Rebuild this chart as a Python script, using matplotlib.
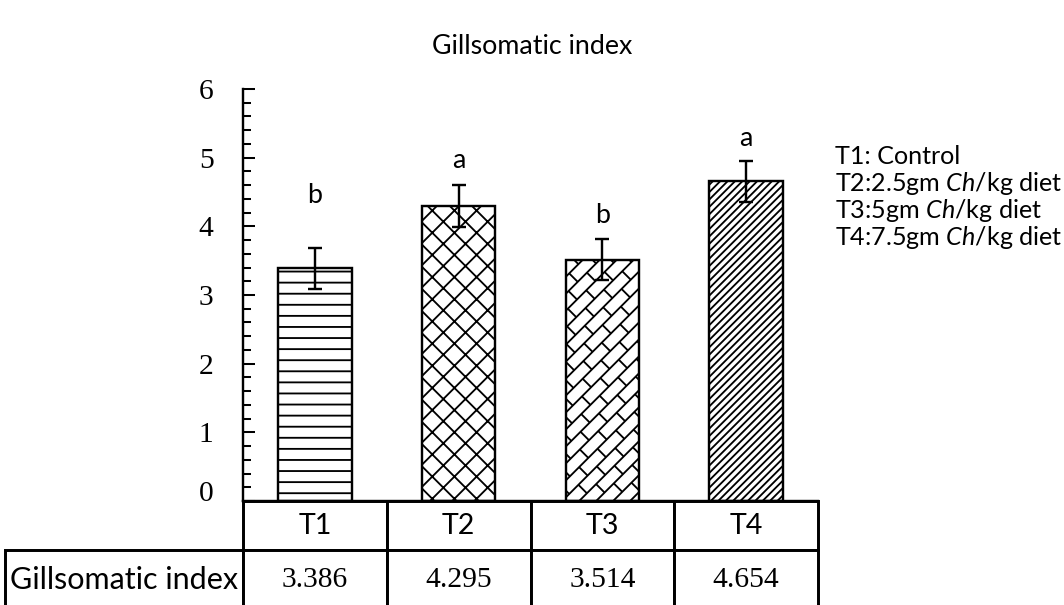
"""Gillsomatic index bar chart with data table underneath."""

import matplotlib
matplotlib.use("Agg")
import matplotlib.pyplot as plt
import numpy as np
from matplotlib.collections import LineCollection
from matplotlib.table import Table
from matplotlib.ticker import MultipleLocator
from matplotlib.transforms import IdentityTransform, ScaledTranslation

categories = ["T1", "T2", "T3", "T4"]
gsi_mean = [3.386, 4.295, 3.514, 4.654]
gsi_err = [0.3, 0.3, 0.3, 0.3]
letters = ["b", "a", "b", "a"]
row_label = "Gillsomatic index"
legend_lines = [
    "T1: Control",
    r"T2:2.5gm $\mathit{Ch}$/kg diet",
    r"T3:5gm $\mathit{Ch}$/kg diet",
    r"T4:7.5gm $\mathit{Ch}$/kg diet",
]

# layout / style
hatches = ["--", "xx", None, "//////"]
letter_gap = [0.77, 0.37, 0.35, 0.33]
DPI = 133
W, H = 1064, 605
AX_L, AX_R, AX_B, AX_T = 243, 818, 501, 89   # pixel box of the plot area
SANS = ["Lato", "DejaVu Sans"]
SERIF = "Liberation Serif"

plt.rcParams["font.family"] = SANS
plt.rcParams["mathtext.fontset"] = "custom"
plt.rcParams["mathtext.rm"] = "Lato"
plt.rcParams["mathtext.it"] = "Lato:italic"
plt.rcParams["hatch.linewidth"] = 1.0
plt.rcParams["hatch.color"] = "black"


def brick_hatch(ax, bar, spacing=12.0, brick=26.0, lw=1.0):
    """Diagonal brick pattern (not available as a built-in hatch), clipped to the bar."""
    bb = bar.get_window_extent()
    s2 = np.sqrt(2)
    cx = np.array([bb.x0, bb.x1, bb.x0, bb.x1])
    cy = np.array([bb.y0, bb.y0, bb.y1, bb.y1])
    u = (cx + cy) / s2
    v = (cy - cx) / s2
    umin, umax = u.min() - brick, u.max() + brick

    def xy(uu, vv):
        return ((uu - vv) / s2, (uu + vv) / s2)

    segs = []
    for k in range(int(np.floor(v.min() / spacing)) - 1, int(np.ceil(v.max() / spacing)) + 1):
        vk = k * spacing
        segs.append([xy(umin, vk), xy(umax, vk)])
        start = np.floor(umin / brick) * brick + (k % 2) * brick / 2
        for uj in np.arange(start, umax, brick):
            segs.append([xy(uj, vk), xy(uj, vk + spacing)])
    lc = LineCollection(segs, colors="black", linewidths=lw, transform=IdentityTransform(), zorder=0.9)
    ax.add_collection(lc, autolim=False)
    lc.set_clip_path(bar)  # after add_collection, which would reset it to the axes patch


fig = plt.figure(figsize=(W / DPI, H / DPI), dpi=DPI)
ax_h = AX_B - AX_T
ax = fig.add_axes([AX_L / W, (H - AX_B) / H, (AX_R - AX_L) / W, ax_h / H])

x = np.arange(len(categories))
bars = ax.bar(x, gsi_mean, width=0.51, color="white", edgecolor="black", linewidth=1.3, zorder=1)
for bar, h in zip(bars, hatches):
    if h:
        bar.set_hatch(h)
    else:
        bar.set_facecolor("none")

ax.errorbar(x, gsi_mean, yerr=gsi_err, fmt="none", ecolor="black",
            elinewidth=1.3, capsize=3.6, capthick=1.3, zorder=3)

ax.set_xlim(-0.5, 3.5)
ax.set_ylim(0, 6)
ax.set_xticks([])
ax.set_yticks(range(7))
ax.yaxis.set_minor_locator(MultipleLocator(0.2))
ax.tick_params(axis="y", which="major", direction="in", length=6.5, width=1.1,
               pad=16, labelsize=16, labelfontfamily=SERIF)
ax.tick_params(axis="y", which="minor", direction="in", length=4.3, width=1.1)
for side in ("top", "right"):
    ax.spines[side].set_visible(False)
for side in ("left", "bottom"):
    ax.spines[side].set_linewidth(1.3)

for i, bar in enumerate(bars):
    if hatches[i] is None:
        brick_hatch(ax, bar)

for xi, m, e, lab, g in zip(x, gsi_mean, gsi_err, letters, letter_gap):
    ax.text(xi, m + e + g, lab, ha="center", va="center", fontsize=14.5)

# the "0" label sits a little higher in the original
lbl0 = ax.yaxis.get_major_ticks()[0].label1
lbl0.set_transform(lbl0.get_transform() + ScaledTranslation(0, 10 / DPI, fig.dpi_scale_trans))

# data table: header row (no corner cell) + one value row with its label
row_h = [49, 60]
label_w = (AX_L - 5) / (AX_R - AX_L)
col_w = 0.25
tbl_h = sum(row_h) / ax_h
tbl = Table(ax, bbox=[0, -tbl_h, 1, tbl_h])
tbl.auto_set_font_size(False)
for c, cat in enumerate(categories):
    cell = tbl.add_cell(0, c, width=col_w, height=row_h[0], text=cat, loc="center")
    cell.get_text().set_fontsize(15.5)
lab_cell = tbl.add_cell(1, -1, width=label_w * col_w * 4, height=row_h[1], text=row_label, loc="center")
lab_cell.get_text().set_fontsize(16.5)
for c, v in enumerate(gsi_mean):
    cell = tbl.add_cell(1, c, width=col_w, height=row_h[1], text=f"{v:.3f}", loc="center")
    cell.get_text().set_fontfamily(SERIF)
    cell.get_text().set_fontsize(16)
for cell in tbl.get_celld().values():
    cell.set_linewidth(1.6)
    cell.set_edgecolor("black")
ax.add_table(tbl)

fig.text(0.5, 1 - 47 / H, "Gillsomatic index", ha="center", va="center", fontsize=14.5)
for i, line in enumerate(legend_lines):
    fig.text(835 / W, 1 - (157 + 26.7 * i) / H, line, ha="left", va="center", fontsize=13.6)

fig.savefig("out.png", dpi=DPI)
